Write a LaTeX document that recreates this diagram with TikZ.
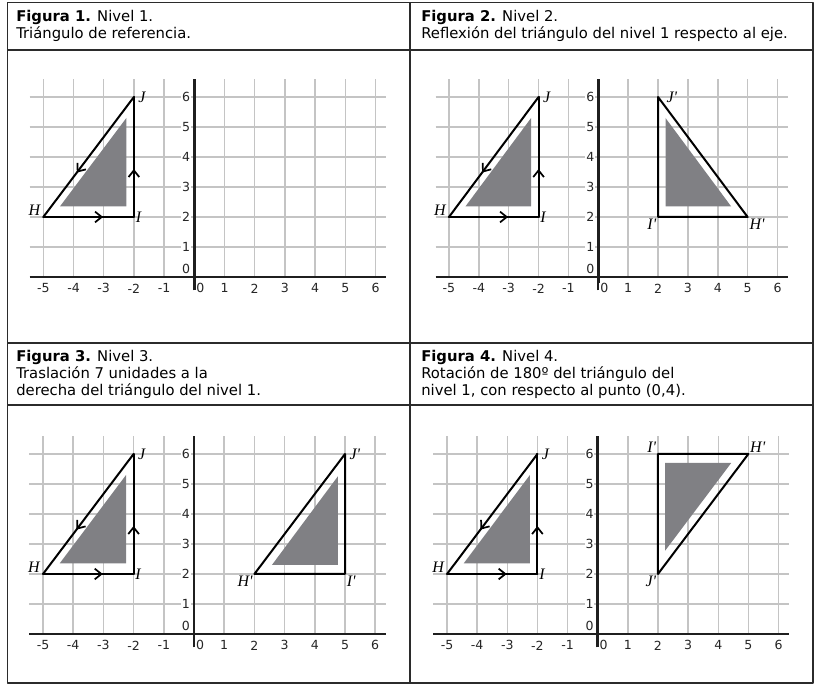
\documentclass[tikz,border=0pt]{standalone}
\usepackage{fontspec}
\setmainfont{DejaVu Sans}
\newfontfamily\vertexfont{Liberation Serif}
\usetikzlibrary{arrows.meta,decorations.markings}
\definecolor{frameline}{HTML}{2B2B2B}
\definecolor{gridgray}{HTML}{C4C4C4}
\definecolor{shade}{HTML}{808084}
\definecolor{axisink}{HTML}{1F1F1F}
\tikzset{
    every picture/.style={line cap=round,line join=round},
    panelframe/.style={draw=frameline,line width=1.3pt,line cap=butt},
    headtext/.style={anchor=north west,align=left,inner sep=0pt,
      font=\fontsize{11.1}{12.7}\selectfont,text=black},
    gridline/.style={draw=gridgray,line width=1.1pt,line cap=butt},
    axisline/.style={draw=axisink,line width=1.9pt,line cap=butt},
    ticklabel/.style={font=\fontsize{9.4}{10}\selectfont,inner sep=0.6pt,
      fill=white,text=black!85},
    figline/.style={draw=black,line width=1.5pt},
    shadetri/.style={fill=shade,draw=none},
    vertexlabel/.style={font=\vertexfont\itshape\fontsize{12}{12}\selectfont,
      inner sep=1.2pt},
    midarrow/.style={postaction={decorate,decoration={markings,
      mark=at position #1 with {\arrow{Straight Barb[length=5pt,width=8pt,line width=1.3pt]}}}}}
}
\newcommand{\prm}{\textquotesingle}
% grid with both axes, in units of one square
\newcommand{\coordgrid}{%
  \foreach \gx in {-5,-4,-3,-2,-1,1,2,3,4,5,6}
    \draw[gridline] (\gx,0) -- (\gx,6.6);
  \foreach \gy in {1,...,6}
    \draw[gridline] (-5.45,\gy) -- (6.35,\gy);
  \draw[axisline] (-5.45,0) -- (6.35,0);
  \draw[axisline] (0,-0.45) -- (0,6.6);
  \foreach \gx [count=\k] in {-5,-4,-3,-2,-1,1,2,3,4,5,6}
    \node[ticklabel] (xt\k) at (\gx,-0.38) {\gx};
  \node[ticklabel] (xt0) at (0.2,-0.38) {0};
  \foreach \gy in {1,...,6}
    \node[ticklabel] (yt\gy) at (-0.27,\gy) {\gy};
  \node[ticklabel] (yt0) at (-0.27,0.27) {0};
}
% reference triangle HIJ of level 1
\newcommand{\basetriangle}{%
  \fill[shadetri] (-4.45,2.35) -- (-2.25,2.35) -- (-2.25,5.3) -- cycle;
  \coordinate (H) at (-5,2);
  \coordinate (I) at (-2,2);
  \coordinate (J) at (-2,6);
  \draw[figline,midarrow=0.66] (H) -- (I);
  \draw[figline,midarrow=0.4] (I) -- (J);
  \draw[figline,midarrow=0.63] (J) -- (H);
  \node[vertexlabel,anchor=west,xshift=2pt] (labJ) at (J) {J};
  \node[vertexlabel,anchor=west] (labI) at (I) {I};
  \node[vertexlabel,anchor=south east,xshift=-1pt] (labH) at (H) {H};
}

\begin{document}
\begin{tikzpicture}[x=0.75pt,y=0.75pt]
  \useasboundingbox (0,0) rectangle (822,685);
  % table frame
  \draw[panelframe] (7.5,2) rectangle (813,682.5);
  \draw[panelframe] (410,2) -- (410,682.5);
  \draw[panelframe] (7.5,635) -- (813,635);
  \draw[panelframe] (7.5,342) -- (813,342);
  \draw[panelframe] (7.5,280) -- (813,280);
  % headings
  \node[headtext] (head1) at (16,675) {\textbf{Figura 1.} Nivel 1.\\Triángulo de referencia.};
  \node[headtext] (head2) at (421,675) {\textbf{Figura 2.} Nivel 2.\\Reflexión del triángulo del nivel 1 respecto al eje.};
  \node[headtext] (head3) at (16,335) {\textbf{Figura 3.} Nivel 3.\\Traslación 7 unidades a la\\derecha del triángulo del nivel 1.};
  \node[headtext] (head4) at (421,335) {\textbf{Figura 4.} Nivel 4.\\Rotación de 180º del triángulo del\\nivel 1, con respecto al punto (0,4).};

  % level 1
  \begin{scope}[shift={(194.3,408)},x=22.65pt,y=22.5pt]
    \coordgrid
    \basetriangle
  \end{scope}

  % level 2: reflection
  \begin{scope}[shift={(598.3,408)},x=22.4pt,y=22.5pt]
    \coordgrid
    \basetriangle
    \fill[shadetri] (2.25,2.35) -- (4.45,2.35) -- (2.25,5.3) -- cycle;
    \coordinate (Hr) at (5,2);
    \coordinate (Ir) at (2,2);
    \coordinate (Jr) at (2,6);
    \draw[figline] (Hr) -- (Ir) -- (Jr) -- cycle;
    \node[vertexlabel,anchor=west,xshift=5pt] (labJr) at (Jr) {J\prm};
    \node[vertexlabel,anchor=north east] (labIr) at (Ir) {I\prm};
    \node[vertexlabel,anchor=north west] (labHr) at (Hr) {H\prm};
  \end{scope}

  % level 3: translation
  \begin{scope}[shift={(194,51)},x=22.65pt,y=22.5pt]
    \coordgrid
    \basetriangle
    \fill[shadetri] (2.58,2.3) -- (4.76,2.3) -- (4.76,5.25) -- cycle;
    \coordinate (Ht) at (2,2);
    \coordinate (It) at (5,2);
    \coordinate (Jt) at (5,6);
    \draw[figline] (Ht) -- (It) -- (Jt) -- cycle;
    \node[vertexlabel,anchor=west,xshift=2pt] (labJt) at (Jt) {J\prm};
    \node[vertexlabel,anchor=north west] (labIt) at (It) {I\prm};
    \node[vertexlabel,anchor=north east] (labHt) at (Ht) {H\prm};
  \end{scope}

  % level 4: rotation about (0,4)
  \begin{scope}[shift={(597.7,51)},x=22.6pt,y=22.5pt]
    \coordgrid
    \basetriangle
    \fill[shadetri] (2.24,5.7) -- (4.43,5.7) -- (2.24,2.78) -- cycle;
    \coordinate (Ho) at (5,6);
    \coordinate (Io) at (2,6);
    \coordinate (Jo) at (2,2);
    \draw[figline] (Ho) -- (Io) -- (Jo) -- cycle;
    \node[vertexlabel,anchor=south east] (labIo) at (Io) {I\prm};
    \node[vertexlabel,anchor=south west] (labHo) at (Ho) {H\prm};
    \node[vertexlabel,anchor=north east] (labJo) at (Jo) {J\prm};
  \end{scope}
\end{tikzpicture}
\end{document}
